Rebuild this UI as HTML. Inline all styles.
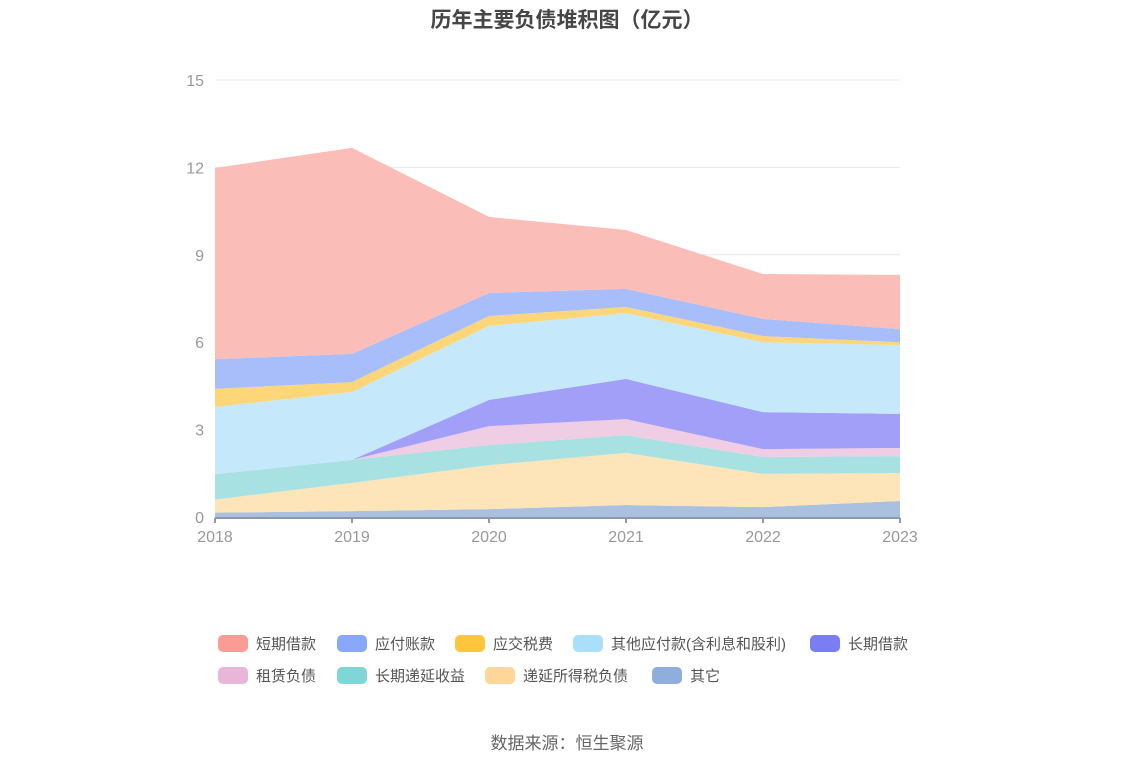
<!DOCTYPE html>
<html><head><meta charset="utf-8"><style>
body{margin:0;background:#fff;font-family:"Liberation Sans","Noto Sans CJK SC",sans-serif;}
#wrap{position:relative;width:1134px;height:766px;overflow:hidden;}
.t{position:absolute;white-space:nowrap;}
.lg{position:absolute;font-size:15px;color:#555;display:flex;align-items:center;}
.lg i{display:inline-block;width:30px;height:17px;border-radius:5px;margin-right:8px;}
</style></head><body>
<div id="wrap">
<div class="t" style="left:0;width:1134px;text-align:center;top:4px;font-size:21px;font-weight:bold;color:#464646;">历年主要负债堆积图（亿元）</div>
<svg id="plot" width="1134" height="600" style="position:absolute;left:0;top:0"></svg>
<div id="legend"></div>
<div class="t" style="left:0;width:1134px;text-align:center;top:729px;font-size:17px;color:#666;">数据来源：恒生聚源</div>
</div>
<script>
const years=["2018","2019","2020","2021","2022","2023"];
const yTicks=[0,3,6,9,12,15];
const seriesNames=["其它","递延所得税负债","长期递延收益","租赁负债","长期借款","其他应付款(含利息和股利)","应交税费","应付账款","短期借款"];
const other=[0.15,0.2,0.27,0.41,0.34,0.55];
const deferredTax=[0.45,0.97,1.51,1.79,1.14,0.96];
const deferredIncome=[0.87,0.79,0.69,0.61,0.58,0.58];
const lease=[0,0,0.65,0.55,0.27,0.28];
const longLoan=[0,0,0.9,1.38,1.27,1.17];
const otherPayable=[2.31,2.33,2.54,2.26,2.4,2.36];
const taxPayable=[0.62,0.34,0.34,0.21,0.21,0.1];
const accountsPayable=[1.02,0.97,0.79,0.62,0.59,0.45];
const shortLoan=[6.56,7.07,2.61,2.02,1.54,1.86];
const seriesData=[other,deferredTax,deferredIncome,lease,longLoan,otherPayable,taxPayable,accountsPayable,shortLoan];
const fills=["#a9c0e0","#fde4b9","#a8e1e1","#efcde5","#a19ff7","#c5e9fa","#fdd679","#a7befb","#fbbdb7"];
const legendColors=["#8eaedb","#fed698","#7fd6d7","#e8b6d8","#7b7ef3","#a9dffb","#fec53d","#8aa8fb","#fa9c94"];
const X0=215,X1=900,Y0=517,Y1=80,YMAX=15;
const x=i=>X0+(X1-X0)*i/(years.length-1);
const y=v=>Y0-(Y0-Y1)*v/YMAX;
const svg=document.getElementById('plot');
const NS="http://www.w3.org/2000/svg";
function mk(tag,attrs){const e=document.createElementNS(NS,tag);for(const k in attrs)e.setAttribute(k,attrs[k]);svg.appendChild(e);return e;}
yTicks.forEach(t=>{
  if(t>0){const g=mk('line',{x1:X0,x2:X1,y1:y(t),y2:y(t),stroke:'#e3e7f2','stroke-width':1});
  
  }
  const tx=mk('text',{x:204,y:y(t)+6,'text-anchor':'end','font-size':16,fill:'#999','font-family':'Liberation Sans, sans-serif'});
  tx.textContent=t;
  
  
});
let base=years.map(()=>0);
seriesData.forEach((s,k)=>{
  const top=base.map((b,i)=>b+s[i]);
  let d='M'+years.map((_,i)=>x(i)+','+y(top[i])).join(' L');
  for(let i=years.length-1;i>=0;i--)d+=' L'+x(i)+','+y(base[i]);
  const p=mk('path',{d:d+'Z',fill:fills[k]});
  
  
  base=top;
});
const ax=mk('line',{x1:X0,x2:X1,y1:518,y2:518,stroke:'#8d98ab','stroke-width':2});


years.forEach((yr,i)=>{
  const tk=mk('line',{x1:x(i),x2:x(i),y1:518,y2:523,stroke:'#8d98ab','stroke-width':2});
  
  
  const tx=mk('text',{x:x(i),y:542,'text-anchor':'middle','font-size':16,fill:'#999','font-family':'Liberation Sans, sans-serif'});
  tx.textContent=yr;
  
  
});
const legendPos=[[652,675],[485,675],[337,675],[218,675],[810,643],[573,643],[455,643],[337,643],[218,643]];
const lg=document.getElementById('legend');
seriesNames.forEach((n,k)=>{
  const d=document.createElement('div');
  d.className='lg';
  d.style.left=legendPos[k][0]+'px';
  d.style.top=(legendPos[k][1]-10)+'px';
  d.innerHTML='<i style="background:'+legendColors[k]+'"></i>'+n;
  
  
  lg.appendChild(d);
});
</script>
</body></html>
